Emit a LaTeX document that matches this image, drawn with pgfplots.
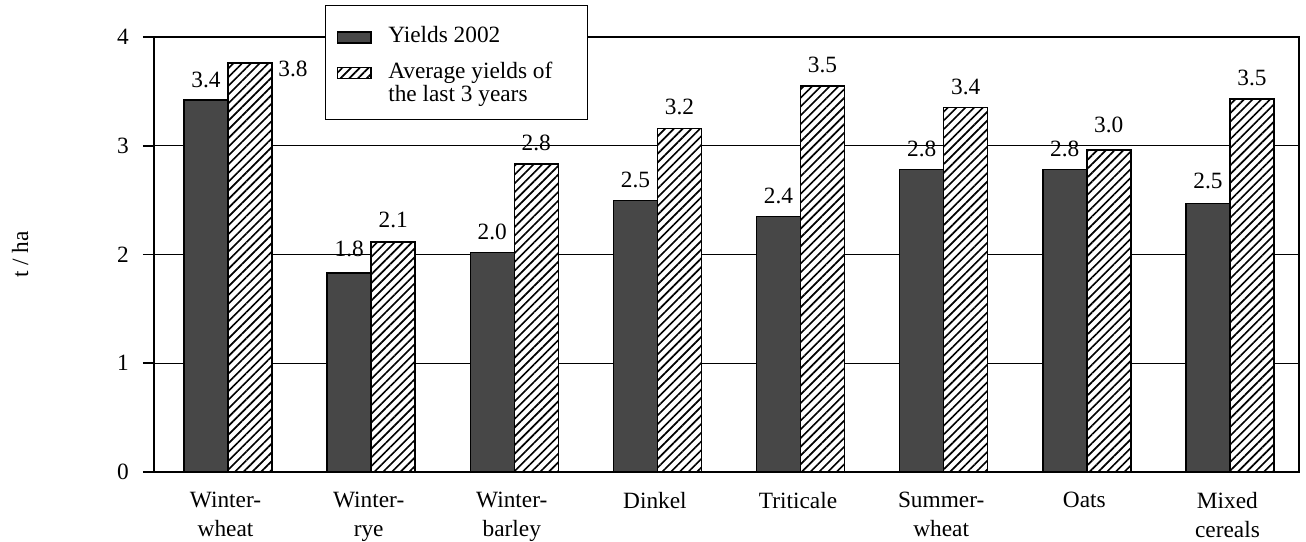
\documentclass[border=0pt]{standalone}
\usepackage{pgfplots}
\pgfplotsset{compat=1.18}
\usepackage{pgfplotstable}
\usepackage{fontspec}
\setmainfont{Liberation Serif}
\usetikzlibrary{patterns.meta}
\pgfplotsset{raisedimg/.style={legend image code/.code={\draw[##1, line width=0.8pt] (0pt,14pt) rectangle (20pt,20.5pt);}}}

\pgfplotstableread{
x y lab dx dy
0 3.42 3.4 0 7
1 1.83 1.8 0 9
2 2.02 2.0 0 7
3 2.495 2.5 0 7
4 2.35 2.4 0 7
5 2.78 2.8 0 7
6 2.78 2.8 0 7
7 2.47 2.5 0 8
}\dataA
\pgfplotstableread{
x y lab dx dy
0 3.76 3.8 25.8 -8.4
1 2.115 2.1 0 8
2 2.83 2.8 0 7.5
3 3.16 3.2 0 7.5
4 3.55 3.5 0 7.5
5 3.35 3.4 0 7.5
6 2.96 3.0 0 10
7 3.43 3.5 0 7.5
}\dataB

\begin{document}
\begin{tikzpicture}
\begin{axis}[
  scale only axis,
  width=687pt, height=261pt,
  xmin=-0.5, xmax=7.5,
  ymin=0, ymax=4,
  ytick={0,1,2,3,4},
  xtick={0,...,7},
  ytick pos=left,
  xticklabels={Winter-\\wheat, Winter-\\rye, Winter-\\barley, Dinkel, Triticale, Summer-\\wheat, Oats, Mixed\\cereals},
  xticklabel style={align=center, font=\fontsize{14}{17.4}\selectfont, yshift=-2pt},
  yticklabel style={font=\fontsize{14}{16}\selectfont, xshift=-5pt},
  x tick style={draw=none},
  y tick style={line width=1.1pt, black},
  tick align=outside,
  major tick length=6.6pt,
  /pgf/number format/assume math mode=true,
  ymajorgrids,
  grid style={line width=0.7pt, black},
  axis line style={line width=1.1pt},
  ylabel={t / ha},
  ylabel style={at={(axis description cs:-0.117,0.5)}, anchor=center, font=\fontsize{14}{16}\selectfont},
  ybar=0pt,
  bar width=26.4pt,
  point meta=explicit symbolic,
  nodes near coords,
  nodes near coords style={font=\fontsize{14}{16}\selectfont, anchor=south, inner sep=0pt, xshift=\dx pt, yshift=\dy pt},
  legend style={at={(axis description cs:0.149,1.074)}, anchor=north west,
    fill=white, draw=black, line width=0.8pt,
    font=\fontsize{14}{14}\selectfont,
    cells={anchor=base west, align=left},
    /tikz/every odd column/.append style={column sep=8pt},
    row sep=6pt, inner xsep=7pt, inner ysep=7pt},
  legend image code/.code={\draw[#1, line width=0.8pt] (0pt,0pt) rectangle (20pt,6.5pt);},
  clip=false,
]
\addplot[draw=black, line width=0.9pt, fill=black!72, bar shift=-11.7pt,
  visualization depends on={\thisrow{dx}\as\dx},
  visualization depends on={\thisrow{dy}\as\dy}]
  table[x=x, y=y, meta=lab] {\dataA};
\addlegendentry{\rule{0pt}{13.5pt}Yields 2002}
\addplot[draw=black, line width=0.9pt, fill=white, postaction={pattern={Lines[angle=45, distance=3.7pt, line width=1pt]}}, bar shift=14.7pt,
  raisedimg,
  visualization depends on={\thisrow{dx}\as\dx},
  visualization depends on={\thisrow{dy}\as\dy}]
  table[x=x, y=y, meta=lab] {\dataB};
\addlegendentry{Average yields of\hspace*{12pt}\\the last 3 years}
\coordinate (sw) at (rel axis cs:0,0);
\coordinate (ne) at (rel axis cs:1,1);
\end{axis}
\pgfresetboundingbox
\path[use as bounding box] ([shift={(-92.4pt,-41.4pt)}]sw) rectangle ([shift={(4.2pt,22.2pt)}]ne);
\end{tikzpicture}
\end{document}
